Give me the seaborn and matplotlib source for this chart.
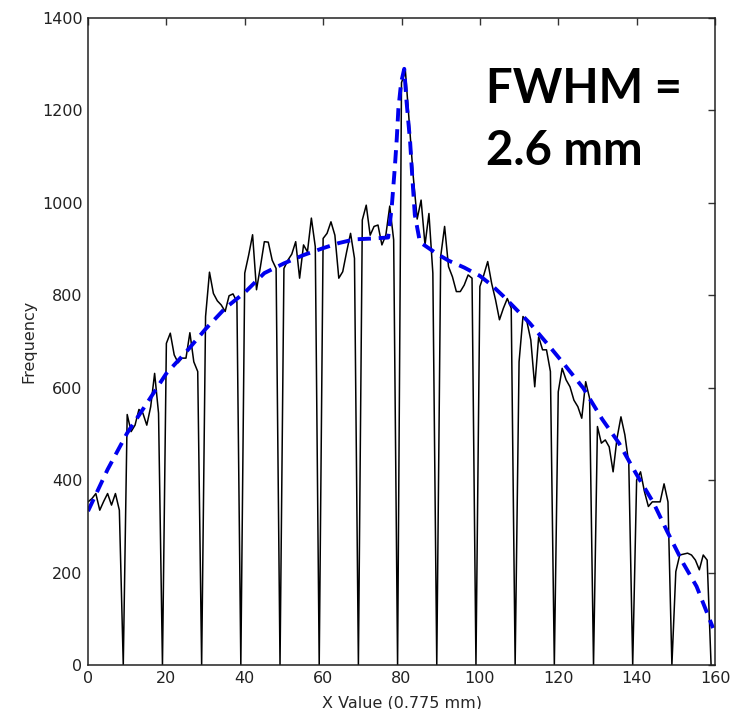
import matplotlib
matplotlib.use("Agg")
import matplotlib.pyplot as plt
import seaborn as sns
import pandas as pd

# --- data -------------------------------------------------------------------
x_pos = list(range(160))
frequency = [
    353, 360, 371, 335, 354, 371, 346, 371, 335, 0,
    542, 505, 519, 553, 545, 519, 559, 631, 545, 0,
    696, 718, 671, 654, 664, 664, 719, 656, 635, 0,
    754, 850, 804, 788, 779, 765, 799, 803, 786, 0,
    848, 887, 931, 812, 862, 916, 915, 876, 858, 0,
    858, 876, 889, 916, 837, 909, 894, 967, 905, 0,
    923, 934, 959, 930, 837, 851, 894, 934, 880, 0,
    963, 995, 930, 949, 952, 909, 930, 993, 920, 0,
    1260, 1285, 1170, 1057, 965, 1006, 909, 977, 848, 0,
    884, 949, 862, 840, 808, 808, 822, 844, 837, 0,
    819, 844, 873, 826, 790, 747, 772, 793, 772, 0,
    656, 754, 743, 703, 602, 710, 682, 682, 635, 0,
    591, 642, 617, 602, 573, 559, 534, 613, 577, 0,
    516, 480, 487, 472, 418, 491, 537, 498, 436, 0,
    400, 418, 375, 343, 353, 353, 353, 392, 353, 0,
    202, 238, 240, 242, 238, 227, 206, 238, 227, 0,
]

fit_x = [0, 5, 10, 15, 20, 25, 30, 35, 40, 45, 50, 55, 60, 64, 68, 73, 76.6,
         77.5, 78.3, 78.8, 79.2, 79.9, 80.7, 81.3, 82.2, 82.8, 83.4, 84.7,
         89, 92, 96, 100, 103, 106, 109, 112.7, 117.9, 121.3, 126.4, 131.2,
         135.5, 139.8, 144.3, 147.8, 151.9, 155.3, 159.5]
fit_y = [333, 423, 502, 566, 631, 677, 727, 772, 806, 848, 869, 887, 902, 913,
         921, 923, 925,
         990, 1077, 1140, 1203, 1260, 1290, 1218, 1132, 1050, 974, 915,
         890, 875, 860, 842, 822, 798, 772, 740, 688, 653, 599, 532,
         480, 415, 351, 289, 220, 170, 80]

x_ticks = [0, 20, 40, 60, 80, 100, 120, 140, 160]
y_ticks = [0, 200, 400, 600, 800, 1000, 1200, 1400]
x_label = "X Value (0.775 mm)"
y_label = "Frequency"
annotation_lines = ["FWHM =", "2.6 mm"]

# --- plot -------------------------------------------------------------------
sns.set_style("white")
plt.rcParams["font.family"] = ["DejaVu Sans"]

W, H = 745, 709
fig = plt.figure(figsize=(W / 100, H / 100), dpi=100)
ax = fig.add_axes([88 / W, 1 - 665 / H, (715 - 88) / W, (665 - 18) / H])

data = pd.DataFrame({"x": x_pos, "freq": frequency})
fit = pd.DataFrame({"x": fit_x, "fit": fit_y})

sns.lineplot(data=data, x="x", y="freq", ax=ax, color="black",
             linewidth=1.1, legend=False, sort=False)
sns.lineplot(data=fit, x="x", y="fit", ax=ax, color="#0000ee",
             linewidth=2.8, legend=False, sort=False)
ax.lines[-1].set_dashes((3.4, 2.0))

ax.set_xlim(0, 160)
ax.set_ylim(0, 1400)
ax.set_xticks(x_ticks)
ax.set_yticks(y_ticks)
ax.set_xlabel(x_label, fontsize=11.5, labelpad=7)
ax.set_ylabel(y_label, fontsize=11.5, labelpad=4)
ax.tick_params(axis="both", which="both", direction="in", length=5,
               width=1, colors="#333333", labelcolor="#222222",
               labelsize=11.5, top=True, right=True, pad=4)
for s in ax.spines.values():
    s.set_visible(True)
    s.set_color("#222222")
    s.set_linewidth(1.1)

fig.text(486 / W, 1 - 103 / H, annotation_lines[0], fontsize=34,
         fontweight="bold", family=["Lato", "DejaVu Sans"], va="baseline",
         ha="left", color="black")
fig.text(486 / W, 1 - 165 / H, annotation_lines[1], fontsize=34,
         fontweight="bold", family=["Lato", "DejaVu Sans"], va="baseline",
         ha="left", color="black")

fig.savefig("out.png", dpi=100, facecolor="white")
